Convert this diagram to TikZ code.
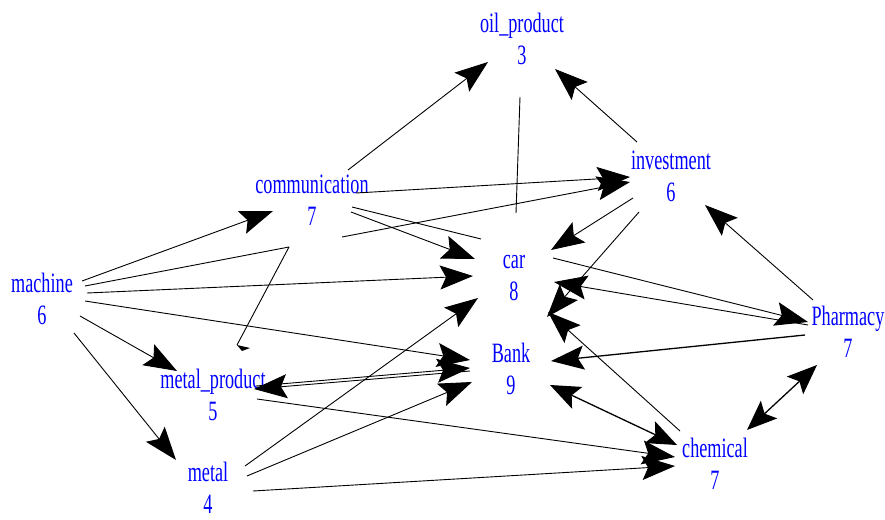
\documentclass[tikz,border=0pt]{standalone}
\usepackage{fontspec}
\newfontfamily\pjfont[FakeStretch=0.65]{Liberation Serif}
\usetikzlibrary{arrows.meta,calc}
\begin{document}
\begin{tikzpicture}[x=1pt,y=-1pt,
  lbl/.style={text=blue,font=\pjfont\fontsize{28}{32}\selectfont,align=center,inner sep=0pt},
  edge/.style={line width=0.9pt,black},
  arr/.style={edge,-{Stealth[length=33pt,width=24pt,inset=6pt]}},
  dblarr/.style={edge,line width=1.3pt,{Stealth[length=30pt,width=24pt,inset=6pt]}-{Stealth[length=30pt,width=24pt,inset=6pt]}},
  tick/.style={fill=black}
]
\useasboundingbox (0,0) rectangle (885,519);
% vertices
\node[lbl] (oil)   at (522,42)  {oil\_product\strut\\3\strut};
\node[lbl] (inv)   at (671,179) {investment\strut\\6\strut};
\node[lbl] (comm)  at (312,203) {communication\strut\\7\strut};
\node[lbl] (car)   at (514,278) {car\strut\\8\strut};
\node[lbl] (mach)  at (42,302)  {machine\strut\\6\strut};
\node[lbl] (phar)  at (848,335) {Pharmacy\strut\\7\strut};
\node[lbl] (bank)  at (511,372) {Bank\strut\\9\strut};
\node[lbl] (mp)    at (213,398) {metal\_product\strut\\5\strut};
\node[lbl] (chem)  at (715,467) {chemical\strut\\7\strut};
\node[lbl] (metal) at (208,486) {metal\strut\\4};
% edges
\draw[arr] ($(comm)+(36,-33)$) -- ($(oil)+(-34,20)$);
\draw[arr] ($(inv)+(-34,-37)$) -- ($(oil)+(33,27)$);
\draw[edge] ($(oil)+(-2,55)$) -- ($(car)+(2,-65)$);
\draw[arr] ($(comm)+(44,-10)$) -- ($(inv)+(-41,-2)$);
\draw[edge] ($(mach)+(43,-16)$) -- ($(comm)+(-23,44)$);
\draw[arr] ($(comm)+(30,34)$) -- ($(inv)+(-41,3)$);
\draw[edge] ($(comm)+(-23,44)$) -- ($(mp)+(24,-53)$);
\fill[tick] ($(mp)+(24,-53)$) -- ($(mp)+(37,-50)$) -- ($(mp)+(29,-47)$) -- cycle;
\draw[arr] ($(mach)+(40,-21)$) -- ($(comm)+(-39,8)$);
\draw[arr] ($(mach)+(45,-9)$) -- ($(car)+(-41,-2)$);
\draw[arr] ($(mach)+(43,-1)$) -- ($(bank)+(-41,-12)$);
\draw[arr] ($(mach)+(38,14)$) -- ($(mp)+(-36,-27)$);
\draw[arr] ($(mach)+(32,31)$) -- ($(metal)+(-32,-26)$);
\draw[arr] ($(metal)+(37,-20)$) -- ($(car)+(-36,20)$);
\draw[arr] ($(metal)+(39,-10)$) -- ($(bank)+(-39,10)$);
\draw[arr] ($(metal)+(45,5)$) -- ($(chem)+(-40,-1)$);
\draw[arr] ($(mp)+(44,1)$) -- ($(chem)+(-40,-10)$);
\draw[arr] ($(bank)+(-41,-1)$) -- ($(mp)+(41,-9)$);
\draw[arr] ($(mp)+(43,-12)$) -- ($(bank)+(-41,-4)$);
\draw[arr] ($(comm)+(39,9)$) -- ($(car)+(-39,-19)$);
\draw[edge] ($(comm)+(40,4)$) -- ($(car)+(-33,-39)$);
\draw[arr] ($(car)+(39,-20)$) -- ($(phar)+(-40,-13)$);
\draw[arr] ($(phar)+(-40,-10)$) -- ($(car)+(40,4)$);
\draw[arr,line width=1.3pt] ($(phar)+(-43,0)$) -- ($(bank)+(40,-11)$);
\draw[arr] ($(phar)+(-35,-35)$) -- ($(inv)+(34,26)$);
\draw[dblarr] ($(phar)+(-31,30)$) -- ($(chem)+(32,-37)$);
\draw[arr] ($(inv)+(-38,19)$) -- ($(car)+(37,-28)$);
\draw[arr] ($(inv)+(-32,33)$) -- ($(bank)+(36,-55)$);
\draw[arr] ($(chem)+(-35,-36)$) -- ($(car)+(34,34)$);
\draw[dblarr] ($(bank)+(39,13)$) -- ($(chem)+(-38,-22)$);
\end{tikzpicture}
\end{document}
